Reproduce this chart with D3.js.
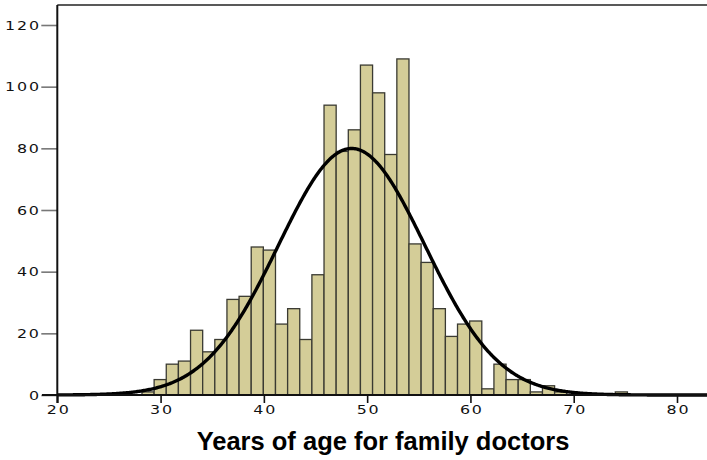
<!DOCTYPE html>
<html>
<head>
<meta charset="utf-8">
<script src="https://cdn.jsdelivr.net/npm/d3@7"></script>
<style>
  html, body { margin: 0; padding: 0; background: #fff; }
  svg { display: block; }
</style>
</head>
<body>
<svg id="chart" width="707" height="460"></svg>
<script>
// Histogram of family doctors' ages with a fitted normal curve.
const binStart = 28.2;      // lower edge of the first age bin (years)
const binWidth = 1.175;     // width of each age bin (years)
const counts = [
  1, 5, 10, 11, 21, 14, 18, 31, 32, 48,
  47, 23, 28, 18, 39, 94, 79, 86, 107, 98,
  78, 109, 49, 43, 28, 19, 23, 24, 2, 10,
  5, 5, 1, 3, 1, 0, 0, 0, 0, 1
];
const xTicks = [20, 30, 40, 50, 60, 70, 80];
const yTicks = [0, 20, 40, 60, 80, 100, 120];
const fitMean = 48.5;
const fitSd = 7.1;
const xTitle = "Years of age for family doctors";

const bins = counts.map((c, i) => ({
  x0: binStart + i * binWidth,
  x1: binStart + (i + 1) * binWidth,
  count: c
}));

const svg = d3.select("#chart");
const x = d3.scaleLinear().domain([20, 80]).range([57.3, 677]);
const y = d3.scaleLinear().domain([0, 120]).range([395, 25]);
const plotTop = 5, plotRight = 707;
// Wide, lightly spaced tick lettering
const tickFont = { family: "DejaVu Sans, sans-serif", size: 13, spacing: 1.5, stretch: 1.22 };

// Bars
svg.append("g").selectAll("rect")
  .data(bins.filter(b => b.count > 0))
  .join("rect")
  .attr("x", d => x(d.x0))
  .attr("y", d => y(d.count))
  .attr("width", d => x(d.x1) - x(d.x0))
  .attr("height", d => y(0) - y(d.count))
  .attr("fill", "#d4cd98")
  .attr("stroke", "#3a3a32")
  .attr("stroke-width", 1.3);

// Fitted normal curve, scaled to counts per bin
const total = d3.sum(counts);
const peakScale = total * binWidth / (fitSd * Math.sqrt(2 * Math.PI));
const curveX = d3.range(0, 601).map(i => x.invert(x.range()[0] + i * (plotRight - x.range()[0]) / 600));
const line = d3.line()
  .x(a => x(a))
  .y(a => y(peakScale * Math.exp(-((a - fitMean) ** 2) / (2 * fitSd * fitSd))));
svg.append("path")
  .datum(curveX)
  .attr("d", line)
  .attr("fill", "none")
  .attr("stroke", "#000")
  .attr("stroke-width", 3.4)
  .attr("stroke-linejoin", "round");

// Top border of the plot frame
svg.append("line")
  .attr("x1", x.range()[0]).attr("x2", plotRight)
  .attr("y1", plotTop).attr("y2", plotTop)
  .attr("stroke", "#222").attr("stroke-width", 1.5);

function styleTickText(sel) {
  sel.attr("font-family", tickFont.family)
    .attr("font-size", tickFont.size)
    .attr("letter-spacing", tickFont.spacing + "px")
    .attr("fill", "#111");
}

// Y axis
const yTickLen = 16, yPad = 0.5;
const yAxis = d3.axisLeft(y).tickValues(yTicks).tickSize(yTickLen).tickPadding(yPad);
const gy = svg.append("g")
  .attr("transform", `translate(${x.range()[0]},0)`)
  .call(yAxis);
gy.select(".domain").remove();
gy.selectAll(".tick line").attr("stroke", "#777").attr("stroke-width", 1.6);
gy.selectAll(".tick text")
  .call(styleTickText)
  .attr("x", -(yTickLen + yPad) / tickFont.stretch)
  .attr("transform", `scale(${tickFont.stretch},1)`);
svg.append("line")
  .attr("x1", x.range()[0]).attr("x2", x.range()[0])
  .attr("y1", plotTop).attr("y2", 403)
  .attr("stroke", "#111").attr("stroke-width", 2);

// X axis
const xAxis = d3.axisBottom(x).tickValues(xTicks).tickSize(8).tickPadding(2);
const gx = svg.append("g")
  .attr("transform", `translate(0,${y(0)})`)
  .call(xAxis);
gx.select(".domain").remove();
gx.selectAll(".tick line").attr("stroke", "#111").attr("stroke-width", 1.6);
gx.selectAll(".tick text")
  .call(styleTickText)
  .attr("dx", tickFont.spacing / 2)
  .attr("transform", `scale(${tickFont.stretch},1)`);
svg.append("line")
  .attr("x1", 42).attr("x2", plotRight)
  .attr("y1", y(0)).attr("y2", y(0))
  .attr("stroke", "#111").attr("stroke-width", 2);

// Axis title
svg.append("text")
  .attr("x", 383)
  .attr("y", 450)
  .attr("text-anchor", "middle")
  .attr("font-family", "Liberation Sans, Arial, sans-serif")
  .attr("font-weight", "bold")
  .attr("font-size", 25.5)
  .attr("fill", "#000")
  .text(xTitle);
</script>
</body>
</html>
